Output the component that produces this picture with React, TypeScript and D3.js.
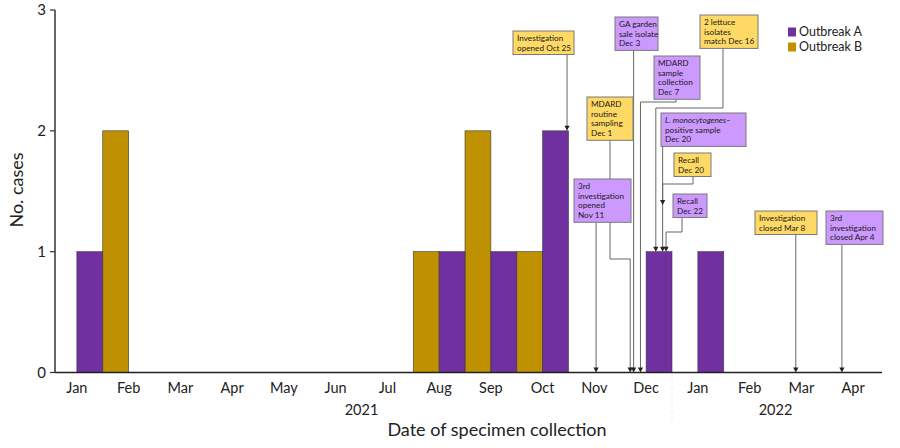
import React from "react";
import * as d3 from "d3";

// ---------- data ----------
const monthKeys = [
  "2021-01", "2021-02", "2021-03", "2021-04", "2021-05", "2021-06", "2021-07", "2021-08",
  "2021-09", "2021-10", "2021-11", "2021-12", "2022-01", "2022-02", "2022-03", "2022-04",
];
const monthLabels = ["Jan", "Feb", "Mar", "Apr", "May", "Jun", "Jul", "Aug", "Sep", "Oct", "Nov", "Dec", "Jan", "Feb", "Mar", "Apr"];
const outbreakA = [1, 0, 0, 0, 0, 0, 0, 1, 1, 2, 0, 1, 1, 0, 0, 0];
const outbreakB = [0, 2, 0, 0, 0, 0, 0, 1, 2, 1, 0, 0, 0, 0, 0, 0];
const yTicks = [0, 1, 2, 3];
const yearLabels = ["2021", "2022"];
const seriesNames = ["Outbreak A", "Outbreak B"];

const eventDates = [
  "2021-10-25", "2021-11-11", "2021-12-01", "2021-12-03", "2021-12-07", "2021-12-16",
  "2021-12-20", "2021-12-20", "2021-12-22", "2022-03-08", "2022-04-04",
];
const eventOutbreak = ["B", "A", "B", "A", "A", "B", "A", "B", "A", "B", "A"];
const eventText = [
  ["Investigation", "opened Oct 25"],
  ["3rd", "investigation", "opened", "Nov 11"],
  ["MDARD", "routine", "sampling", "Dec 1"],
  ["GA garden", "sale isolate", "Dec 3"],
  ["MDARD", "sample", "collection", "Dec 7"],
  ["2 lettuce", "isolates", "match Dec 16"],
  ["*L. monocytogenes*–", "positive sample", "Dec 20"],
  ["Recall", "Dec 20"],
  ["Recall", "Dec 22"],
  ["Investigation", "closed Mar 8"],
  ["3rd", "investigation", "closed Apr 4"],
];

// ---------- layout / style ----------
const W = 900;
const H = 448;
const FONT = "Lato, 'Open Sans', sans-serif";
const PURPLE = "#7030A0";
const GOLD = "#BF9000";
const BOX_FILL: Record<string, string> = { A: "#CC99FF", B: "#FFD966" };

type BoxLayout = { x: number; y: number; w: number; attach?: number; elbow?: number; arrowY?: number };
const boxLayout: BoxLayout[] = [
  { x: 513, y: 31, w: 61 },
  { x: 574, y: 179, w: 57 },
  { x: 587, y: 97, w: 46, attach: 610, elbow: 259 },
  { x: 615, y: 17, w: 43 },
  { x: 654, y: 56, w: 46, attach: 676, elbow: 102 },
  { x: 700, y: 15, w: 58, attach: 723, elbow: 108 },
  { x: 661, y: 113, w: 85 },
  { x: 674, y: 153, w: 37, attach: 693, elbow: 184, arrowY: 205 },
  { x: 673, y: 194, w: 34, attach: 682, elbow: 232 },
  { x: 755, y: 211, w: 62 },
  { x: 826, y: 211, w: 57 },
];

const BOX_FONT = 8.2;
const LINE_GAP = 9.9;
const PAD_Y = 6.8;

const parseDate = d3.utcParse("%Y-%m-%d");

function renderLine(line: string, key: number, x: number, y: number) {
  const parts = line.split("*");
  return (
    <text key={key} x={x} y={y} dy="0.35em" fontSize={BOX_FONT} fill="#1a1a1a" fontFamily={FONT}>
      {parts.map((p, i) =>
        p ? (
          <tspan key={i} fontStyle={i % 2 === 1 ? "italic" : "normal"}>
            {p}
          </tspan>
        ) : null
      )}
    </text>
  );
}

export default function App() {
  const y0 = 372.5;
  const plotLeft = 55;
  const axisRight = 882;

  const xBand = d3.scaleBand<string>().domain(monthKeys).range([51, 879]);
  const xSub = d3.scaleBand<string>().domain(["B", "A"]).range([0, xBand.bandwidth()]);
  const xTime = d3
    .scaleUtc()
    .domain([parseDate("2021-01-01") as Date, parseDate("2022-05-01") as Date])
    .range([60, 888]);
  const y = d3.scaleLinear().domain([0, 3]).range([y0, 10]);

  const series = [
    { key: "B", values: outbreakB, color: GOLD },
    { key: "A", values: outbreakA, color: PURPLE },
  ];

  const bars = series.flatMap((s) =>
    s.values
      .map((v, i) => ({ v, i, s }))
      .filter((d) => d.v > 0)
      .map((d) => ({
        key: `${d.s.key}-${d.i}`,
        x: (xBand(monthKeys[d.i]) as number) + (xSub(d.s.key) as number),
        w: xSub.bandwidth(),
        y: y(d.v),
        h: y(0) - y(d.v),
        color: d.s.color,
      }))
  );

  const topAt = (ax: number) => {
    let top = y(0);
    bars.forEach((b) => {
      if (ax >= b.x && ax <= b.x + b.w) top = Math.min(top, b.y);
    });
    return top;
  };

  const center = (k: string) => (xBand(k) as number) + xBand.step() / 2;

  const years = yearLabels.map((yr) => {
    const ks = monthKeys.filter((k) => k.startsWith(yr));
    return { yr, x: (center(ks[0]) + center(ks[ks.length - 1])) / 2 };
  });
  const yearBreak = xBand("2022-01") as number;

  const events = eventDates.map((ds, i) => {
    const L = boxLayout[i];
    const ax = xTime(parseDate(ds) as Date);
    const tip = L.arrowY ?? topAt(ax);
    const lines = eventText[i];
    const bh = PAD_Y * 2 + (lines.length - 1) * LINE_GAP;
    const bottom = L.y + bh;
    const path =
      L.attach !== undefined
        ? `M${L.attach},${bottom}V${L.elbow}H${ax}V${tip - 4}`
        : `M${ax},${bottom}V${tip - 4}`;
    return { i, ax, tip, lines, bh, L, path, fill: BOX_FILL[eventOutbreak[i]] };
  });

  return (
    <svg
      width={W}
      height={H}
      viewBox={`0 0 ${W} ${H}`}
      style={{ position: "absolute", left: 0, top: 0, background: "#fff" }}
      fontFamily={FONT}
    >
      <rect x={0} y={0} width={W} height={H} fill="#fff" />

      {/* bars */}
      {bars.map((b) => (
        <rect key={b.key} x={b.x} y={b.y} width={b.w} height={b.h} fill={b.color} stroke="#3a3a3a" strokeWidth={0.6} />
      ))}

      {/* year separator */}
      <line x1={yearBreak} x2={yearBreak} y1={y0 + 2} y2={422} stroke="#ececec" strokeWidth={1} strokeDasharray="3,3" />

      {/* axes */}
      <line x1={plotLeft} x2={axisRight} y1={y0} y2={y0} stroke="#222" strokeWidth={1.5} />
      <line x1={plotLeft} x2={plotLeft} y1={10} y2={y0} stroke="#333" strokeWidth={1.5} />
      {yTicks.map((t) => (
        <g key={t}>
          <line x1={plotLeft - 5} x2={plotLeft} y1={y(t)} y2={y(t)} stroke="#333" strokeWidth={1.2} />
          <text x={plotLeft - 9} y={y(t)} dy="0.35em" textAnchor="end" fontSize={15} fill="#222">
            {t}
          </text>
        </g>
      ))}
      {monthKeys.map((k, i) => (
        <text key={k} x={center(k)} y={388} dy="0.35em" textAnchor="middle" fontSize={14.5} fill="#222">
          {monthLabels[i]}
        </text>
      ))}
      {years.map((yy) => (
        <text key={yy.yr} x={yy.x} y={410} dy="0.35em" textAnchor="middle" fontSize={14.5} fill="#222">
          {yy.yr}
        </text>
      ))}
      <text x={497} y={430} dy="0.35em" textAnchor="middle" fontSize={18} fill="#222">
        Date of specimen collection
      </text>
      <text transform={`translate(17,190) rotate(-90)`} dy="0.35em" textAnchor="middle" fontSize={18} fill="#222">
        No. cases
      </text>

      {/* legend */}
      {seriesNames.map((n, i) => (
        <g key={n} transform={`translate(788,${27 + i * 15})`}>
          <rect x={0} y={0.5} width={8} height={9} fill={i === 0 ? PURPLE : GOLD} />
          <text x={11} y={5} dy="0.35em" fontSize={12.5} fill="#222">
            {n}
          </text>
        </g>
      ))}

      {/* connectors */}
      {events.map((e) => (
        <g key={`c${e.i}`}>
          <path d={e.path} fill="none" stroke="#666" strokeWidth={1} />
          <path d={`M${e.ax - 2.6},${e.tip - 5}L${e.ax + 2.6},${e.tip - 5}L${e.ax},${e.tip}Z`} fill="#222" />
        </g>
      ))}

      {/* boxes */}
      {events.map((e) => (
        <g key={`b${e.i}`}>
          <rect x={e.L.x} y={e.L.y} width={e.L.w} height={e.bh} fill={e.fill} stroke="#7a7a7a" strokeWidth={1} />
          {e.lines.map((ln, j) => renderLine(ln, j, e.L.x + 4, e.L.y + PAD_Y + j * LINE_GAP))}
        </g>
      ))}
    </svg>
  );
}
